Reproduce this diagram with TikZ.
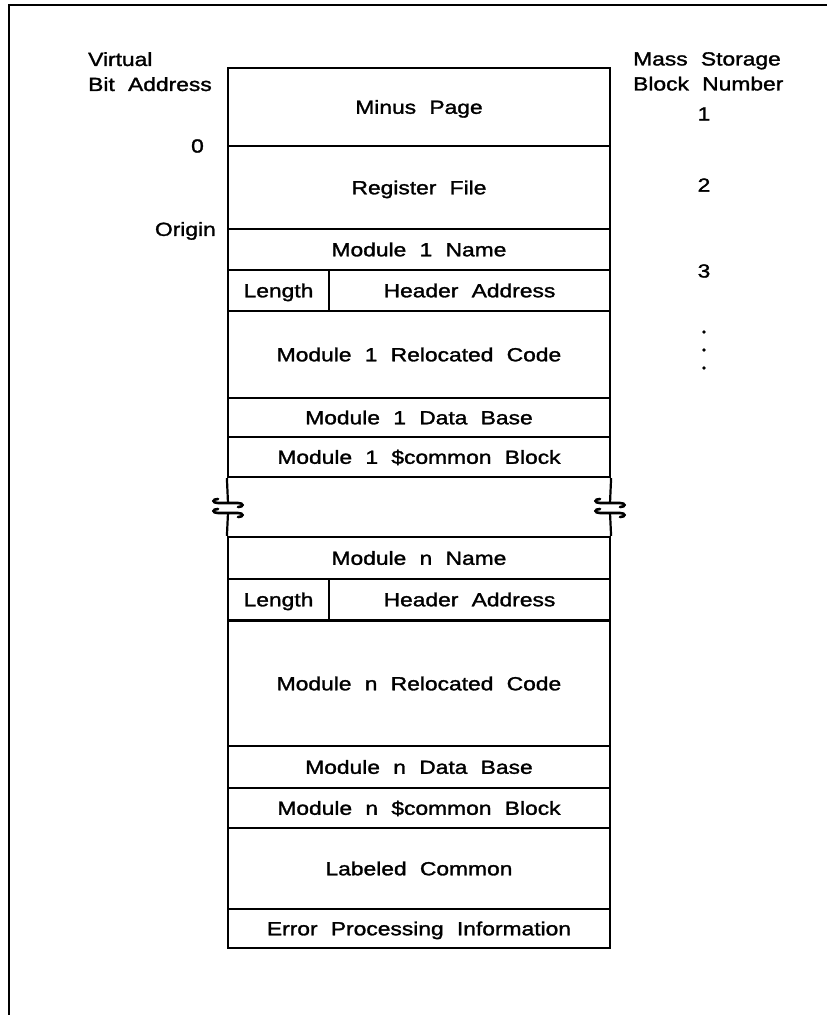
\documentclass[tikz,border=0pt]{standalone}
\usepackage{fontspec}
\setmainfont{Liberation Sans}[FakeStretch = 1.2, WordSpace = 2.1, FakeBold = 1.5]

\tikzset{%
    cell/.style = {%
        draw,
        line width = 2.2pt,
        minimum width = 382pt,
        inner sep = 0pt,
        text height = 13.6pt,
        text depth = 0pt,
        align = center,
    },
    sidetext/.style = {inner sep = 0pt},
}

% break symbol on a side of the map, centred on (#1, #2)
\newcommand{\cutmark}[2]{%
    \foreach \dy in {-5, 5} {%
        \draw[line width = 2.6pt, line cap = round]
            ({#1 - 10}, {#2 + \dy - 4}) .. controls ({#1 - 16}, {#2 + \dy - 4})
            and ({#1 - 16}, {#2 + \dy}) .. ({#1 - 10}, {#2 + \dy})
            -- ({#1 + 10}, {#2 + \dy}) .. controls ({#1 + 16}, {#2 + \dy})
            and ({#1 + 16}, {#2 + \dy + 4}) .. ({#1 + 10}, {#2 + \dy + 4});
    }%
}

\begin{document}
\begin{tikzpicture}[x = 1pt, y = -1pt, font = \fontsize{19}{25}\selectfont]

        \useasboundingbox (0, 0) rectangle (827, 1015);

        % frame of the page
        \draw[line width = 1.4pt] (9, 1015) -- (9, 5) -- (827, 5);

        % the rows of the virtual memory map
        \foreach \ytop/\ybot/\name/\txt in {%
                68/146/minus/Minus Page,
                146/229/regfile/Register File,
                229/270/name1/Module 1 Name,
                311/398/code1/Module 1 Relocated Code,
                398/437/data1/Module 1 Data Base,
                437/477/common1/Module 1 \$common Block,
                537/579/namen/Module n Name,
                621/746/coden/Module n Relocated Code,
                746/788/datan/Module n Data Base,
                788/828/commonn/Module n \$common Block,
                828/909/labeled/Labeled Common,
                909/948/errinfo/Error Processing Information} {%
            \node[cell, minimum height = {(\ybot - \ytop) * 1pt}]
                (\name) at (419, {(\ytop + \ybot) / 2}) {\txt};
        }

        % length and header address rows
        \foreach \ytop/\k in {270/1, 579/n} {%
            \node[cell, minimum width = 101pt, minimum height = 41pt]
                (len\k) at (278.5, {\ytop + 20.5}) {Length};
            \node[cell, minimum width = 281pt, minimum height = 41pt]
                (hdr\k) at (469.5, {\ytop + 20.5}) {Header Address};
        }

        % the gap between module 1 and module n
        \draw[line width = 2.2pt] (common1.south west) -- (228, 503)
            (228, 513) -- (namen.north west);
        \draw[line width = 2.2pt] (common1.south east) -- (610, 503)
            (610, 513) -- (namen.north east);
        \cutmark{228}{508}
        \cutmark{610}{508}

        % left side: virtual bit addresses
        \node[sidetext, anchor = north west, align = left]
            (bitaddr) at (88, 52) {Virtual\\Bit Address};
        \node[sidetext, anchor = east] (zero) at (204, 146) {0};
        \node[sidetext, anchor = east, text depth = 0pt] (origin) at (216, 229) {Origin};

        % right side: mass storage block numbers
        \node[sidetext, anchor = north west, align = left]
            (blocknum) at (633, 52) {Mass Storage\\Block Number};
        \node[sidetext] (blk1) at (704, 114) {1};
        \node[sidetext] (blk2) at (704, 185) {2};
        \node[sidetext] (blk3) at (704, 271) {3};
        \foreach \yy in {332, 350, 368} {%
            \fill (704, \yy) circle (1.9pt);
        }
    \end{tikzpicture}
\end{document}
